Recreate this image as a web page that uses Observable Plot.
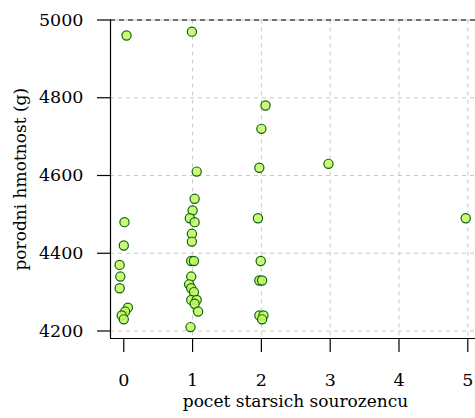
<!DOCTYPE html>
<html>
<head>
<meta charset="utf-8">
<script src="https://cdn.jsdelivr.net/npm/d3@7"></script>
<script src="https://cdn.jsdelivr.net/npm/@observablehq/plot@0.6"></script>
<style>
  html, body { margin: 0; padding: 0; background: white; }
</style>
</head>
<body>
<div id="chart"></div>
<script>
// Plotted (jittered) number of older siblings
const pocetStarsich = [
  0.04, 0.01, 0.00, -0.06, -0.05, -0.06, 0.06, 0.02, -0.03, 0.00,
  0.99, 1.06, 1.03, 1.00, 0.96, 1.03, 0.99, 0.99, 0.98, 1.02, 0.98, 0.95, 0.98, 1.02, 0.98, 1.06, 1.03, 1.08, 0.97,
  2.06, 2.00, 1.97, 1.95, 1.99, 1.97, 2.01, 1.97, 2.03, 2.01,
  2.975,
  4.97
];
// Birth weight (g)
const porodniHmotnost = [
  4960, 4480, 4420, 4370, 4340, 4310, 4260, 4250, 4240, 4230,
  4970, 4610, 4540, 4510, 4490, 4480, 4450, 4430, 4380, 4380, 4340, 4320, 4310, 4300, 4280, 4280, 4270, 4250, 4210,
  4780, 4720, 4620, 4490, 4380, 4330, 4330, 4240, 4240, 4230,
  4630,
  4490
];
const xTicks = [0, 1, 2, 3, 4, 5];
const xGrid = [1, 2, 3, 4, 5];
const yTicks = [4200, 4400, 4600, 4800, 5000];
const yGrid = [4200, 4400, 4600, 4800];
const xLabel = "pocet starsich sourozencu";
const yLabel = "porodni hmotnost (g)";

const data = pocetStarsich.map((x, i) => ({x, y: porodniHmotnost[i]}));

const xDomain = [-0.193, 5.112];
const yDomain = [4180.7, 5000];
const font = "DejaVu Serif";

const chart = Plot.plot({
  width: 475,
  height: 418,
  marginLeft: 110,
  marginRight: 0,
  marginTop: 19.5,
  marginBottom: 80,
  style: {fontFamily: font, fontSize: "17px", color: "black", background: "white"},
  x: {domain: xDomain},
  y: {domain: yDomain},
  marks: [
    Plot.gridX(xGrid, {stroke: "#c8c8c8", strokeOpacity: 1, strokeWidth: 1, strokeDasharray: "4,4"}),
    Plot.gridY(yGrid, {stroke: "#c8c8c8", strokeOpacity: 1, strokeWidth: 1, strokeDasharray: "4,4"}),
    Plot.ruleY([yDomain[1]], {stroke: "#c8c8c8", strokeWidth: 1}),
    Plot.ruleY([yDomain[1]], {stroke: "black", strokeWidth: 1, strokeDasharray: "5,4"}),
    Plot.ruleX([xDomain[0]], {y1: yDomain[0], y2: yDomain[1], stroke: "black", strokeWidth: 1.2}),
    Plot.ruleY([yDomain[0]], {x1: xDomain[0], x2: xDomain[1], stroke: "black", strokeWidth: 1.2}),
    Plot.axisY({ticks: yTicks, tickSize: 13, tickPadding: 14, tickFormat: d => String(d), label: null, fontSize: 17.5, fontFamily: font, strokeWidth: 1.2}),
    Plot.axisX({ticks: xTicks, tickSize: 14, tickPadding: 21, tickFormat: d => String(d), label: null, fontSize: 17.5, fontFamily: font, strokeWidth: 1.2}),
    Plot.dot(data, {x: "x", y: "y", r: 4.6, fill: "#c4f862", fillOpacity: 0.85, stroke: "#0b660b", strokeWidth: 1.2}),
    Plot.text([xLabel], {text: d => d, frameAnchor: "bottom", textAnchor: "middle", dx: 2.5, dy: 68, fontSize: 17, fontFamily: font, fill: "black"}),
    Plot.text([yLabel], {text: d => d, frameAnchor: "left", textAnchor: "middle", dx: -90, rotate: -90, fontSize: 17, fontFamily: font, fill: "black"})
  ]
});
document.getElementById("chart").appendChild(chart);
</script>
</body>
</html>
